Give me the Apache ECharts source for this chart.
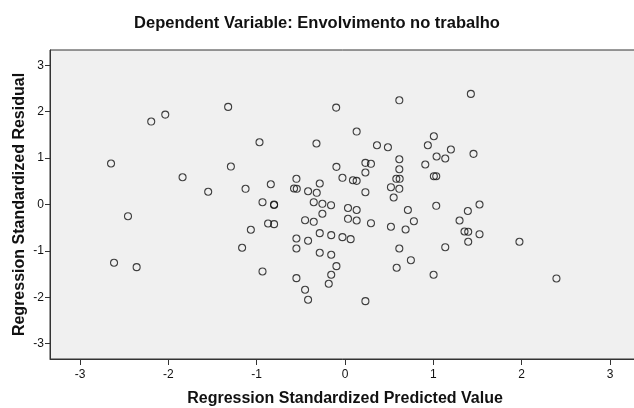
<!DOCTYPE html>
<html>
<head>
<meta charset="utf-8">
<script src="https://cdn.jsdelivr.net/npm/echarts@6/dist/echarts.min.js"></script>
<style>
html,body{margin:0;padding:0;background:#fff;}
#c{width:634px;height:408px;}
</style>
</head>
<body>
<div id="c"></div>
<script>
// Regression Standardized Predicted Value (x) and Residual (y)
var predicted = [
-2.649,-2.194,-2.035,-1.323,-1.839,-1.549,-1.292,-1.126,-0.968,-0.934,
-0.803,-0.803,-0.840,-0.550,-0.577,-0.546,-0.418,-0.323,-0.286,-0.320,
-0.354,-0.256,-0.158,-0.100,-0.097,-0.029,0.615,1.425,0.132,0.362,
0.486,1.006,0.938,1.199,1.455,1.037,1.135,0.615,0.231,0.294,
0.909,0.615,0.231,0.090,0.132,0.581,0.619,1.006,1.033,0.520,
0.615,0.231,0.551,0.034,0.132,0.712,1.033,1.523,1.391,0.034,
0.132,0.294,0.520,0.686,0.780,1.297,1.353,1.395,1.523,1.395,
-0.156,-0.029,0.064,0.615,1.135,1.975,-0.156,-0.097,-0.156,-0.184,
0.746,0.585,1.003,2.394,0.231,-2.457,-0.871,-0.803,-1.066,-0.452,
-0.354,-0.256,-0.550,-0.418,-0.286,-1.165,-0.550,-0.286,-2.615,-2.359,
-0.934,-0.550,-0.452,-0.418
];
var residual = [
0.883,1.788,1.938,2.104,0.588,0.274,0.818,0.338,1.342,0.050,
0.000,-0.010,0.437,0.554,0.345,0.338,0.286,1.314,0.452,0.252,
0.050,0.015,-0.015,2.089,0.812,0.575,2.246,2.384,1.572,1.277,
1.234,1.471,1.277,1.185,1.092,1.034,0.991,0.976,0.898,0.877,
0.862,0.760,0.689,0.523,0.510,0.554,0.554,0.610,0.610,0.373,
0.338,0.265,0.151,-0.075,-0.118,-0.118,-0.028,0.000,-0.140,-0.308,
-0.345,-0.403,-0.480,-0.538,-0.360,-0.345,-0.582,-0.588,-0.640,-0.803,
-0.661,-0.704,-0.747,-0.948,-0.920,-0.803,-1.083,-1.329,-1.514,-1.708,
-1.200,-1.363,-1.514,-1.594,-2.083,-0.252,-0.409,-0.424,-0.545,-0.338,
-0.373,-0.200,-0.732,-0.782,-0.618,-0.933,-0.948,-1.040,-1.256,-1.350,
-1.443,-1.587,-1.837,-2.053
];
var xTicks = [-3,-2,-1,0,1,2,3];
var yTicks = [-3,-2,-1,0,1,2,3];

var points = predicted.map(function(v,i){ return [v, residual[i]]; });

var font = '"Liberation Sans", Arial, sans-serif';
var chart = echarts.init(document.getElementById('c'), null, {renderer:'canvas'});
chart.setOption({
  animation:false,
  backgroundColor:'#ffffff',
  title:{
    text:'Dependent Variable: Envolvimento no trabalho',
    left:'center', top:10,
    textStyle:{fontFamily:font, fontSize:16.5, fontWeight:'bold', color:'#111'}
  },
  grid:{
    left:50, top:50, width:590, height:309,
    outerBoundsMode:'none', containLabel:false,
    show:true, backgroundColor:'#f0f0f0', borderColor:'#333', borderWidth:1
  },
  xAxis:{
    type:'value', min:-3.34, max:3.34,
    name:'Regression Standardized Predicted Value',
    nameLocation:'middle', nameGap:32, nameMoveOverlap:false,
    nameTextStyle:{fontFamily:font, fontSize:16, fontWeight:'bold', color:'#111'},
    axisLine:{show:true, onZero:false, lineStyle:{color:'#333', width:1}},
    axisTick:{show:true, inside:false, length:6, customValues:xTicks, lineStyle:{color:'#333'}},
    axisLabel:{customValues:xTicks, fontFamily:font, fontSize:12, color:'#111', margin:10},
    splitLine:{show:false}
  },
  yAxis:{
    type:'value', min:-3.33, max:3.33,
    name:'Regression Standardized Residual',
    nameLocation:'middle', nameGap:22, nameMoveOverlap:false,
    nameTextStyle:{fontFamily:font, fontSize:16, fontWeight:'bold', color:'#111'},
    axisLine:{show:true, onZero:false, lineStyle:{color:'#333', width:1}},
    axisTick:{show:true, inside:false, length:5, customValues:yTicks, lineStyle:{color:'#333'}},
    axisLabel:{customValues:yTicks, fontFamily:font, fontSize:12, color:'#111', margin:6},
    splitLine:{show:false}
  },
  series:[{
    type:'scatter',
    data:points,
    symbol:'circle',
    symbolSize:7,
    itemStyle:{color:'rgba(0,0,0,0)', borderColor:'#111', borderWidth:1.1},
    emphasis:{disabled:true}
  }]
});
</script>
</body>
</html>
